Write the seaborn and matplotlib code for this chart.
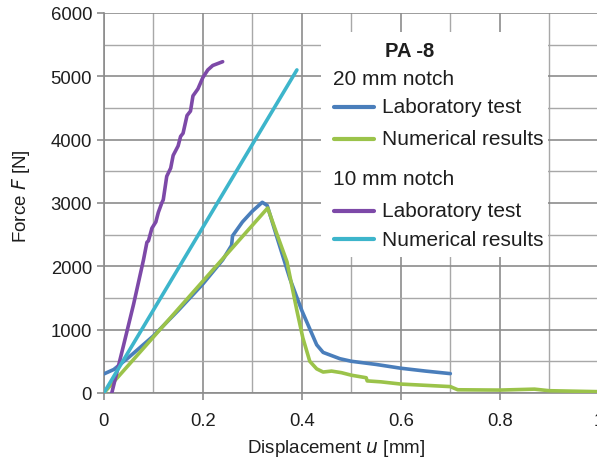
import matplotlib
matplotlib.use('Agg')
import matplotlib.pyplot as plt
import seaborn as sns
import pandas as pd
from matplotlib.patches import Rectangle
from matplotlib.ticker import MultipleLocator

# 20 mm notch - laboratory test
lab20_u = [0, 0.02, 0.05, 0.10, 0.15, 0.20, 0.24, 0.258, 0.26, 0.28, 0.30, 0.32, 0.33,
           0.35, 0.376, 0.40, 0.43, 0.443, 0.477, 0.50, 0.55, 0.60, 0.65, 0.70]
lab20_F = [300, 370, 560, 900, 1300, 1720, 2100, 2330, 2480, 2700, 2870, 3010, 2960,
           2450, 1800, 1300, 760, 640, 540, 500, 450, 390, 345, 305]

# 20 mm notch - numerical results
num20_u = [0, 0.331, 0.35, 0.37, 0.39, 0.402, 0.416, 0.43, 0.443, 0.46, 0.48, 0.50,
           0.53, 0.532, 0.56, 0.60, 0.65, 0.70, 0.715, 0.80, 0.87, 0.90, 1.0]
num20_F = [0, 2920, 2500, 2070, 1300, 870, 500, 380, 330, 345, 320, 280,
           240, 190, 175, 140, 120, 100, 50, 45, 60, 35, 20]

# 10 mm notch - laboratory test
lab10_u = [0.016, 0.04, 0.06, 0.08, 0.087, 0.09, 0.097, 0.105, 0.11, 0.117, 0.12, 0.127,
           0.135, 0.14, 0.15, 0.155, 0.16, 0.168, 0.175, 0.18, 0.19, 0.20, 0.21, 0.22, 0.24]
lab10_F = [0, 760, 1400, 2100, 2380, 2400, 2600, 2700, 2850, 3000, 3050, 3420,
           3550, 3750, 3900, 4050, 4100, 4380, 4450, 4690, 4800, 4980, 5100, 5170, 5230]

# 10 mm notch - numerical results
num10_u = [0, 0.39]
num10_F = [0, 5100]

xtick_labels = ["0", "0.2", "0.4", "0.6", "0.8", "1"]

BLUE = "#4A7EBB"
GREEN = "#9BC34A"
PURPLE = "#7D49A8"
CYAN = "#3DB5CB"
TXT = "#1e1e1e"

sns.set_theme(style="white")
plt.rcParams['font.family'] = ['Liberation Sans', 'DejaVu Sans']

fig = plt.figure(figsize=(5.97, 4.64), dpi=100)
ax = fig.add_axes([0.174, 0.151, 0.829, 0.819])

series = [
    (lab20_u, lab20_F, BLUE),
    (num20_u, num20_F, GREEN),
    (lab10_u, lab10_F, PURPLE),
    (num10_u, num10_F, CYAN),
]
for u, F, c in series:
    df = pd.DataFrame({"u": u, "F": F})
    sns.lineplot(data=df, x="u", y="F", ax=ax, color=c, lw=2.6,
                 sort=False, estimator=None, zorder=5, solid_capstyle='round')

ax.set_xlim(0, 1.0)
ax.set_ylim(0, 6000)
ax.set_xticks([0, 0.2, 0.4, 0.6, 0.8, 1.0])
ax.set_xticklabels(xtick_labels)
ax.xaxis.set_minor_locator(MultipleLocator(0.1))
ax.yaxis.set_major_locator(MultipleLocator(1000))
ax.yaxis.set_minor_locator(MultipleLocator(500))

ax.grid(which="major", color="#8c8c8c", lw=1.2, zorder=0)
ax.grid(which="minor", color="#a8a8a8", lw=1.0, zorder=0)
ax.set_axisbelow(True)
for s in ["top", "right"]:
    ax.spines[s].set_visible(False)
for s in ["left", "bottom"]:
    ax.spines[s].set_color("#8c8c8c")
    ax.spines[s].set_linewidth(1.2)
ax.tick_params(which="major", direction="out", length=5, width=1.2, color="#8c8c8c",
               labelsize=13.3, labelcolor=TXT, bottom=True, left=True)
ax.tick_params(axis="x", which="major", pad=9)
ax.tick_params(which="minor", length=0)

ax.set_xlabel("Displacement $\\it{u}$ [mm]", fontsize=13.5, color=TXT)
ax.set_ylabel("Force $\\it{F}$ [N]", fontsize=13.5, color=TXT)
ax.xaxis.set_label_coords(0.469, -0.115)
ax.yaxis.set_label_coords(-0.145, 0.52)

# legend box
ax.add_patch(Rectangle((0.438, 2150), 0.459, 3550, facecolor="white",
                       edgecolor="none", zorder=3))
ax.text(0.618, 5400, "PA -8", ha="center", va="center", fontsize=14.5,
        fontweight="bold", color=TXT, zorder=4)
entries = [
    (4960, "20 mm notch", None),
    (4515, "Laboratory test", BLUE),
    (4010, "Numerical results", GREEN),
    (3380, "10 mm notch", None),
    (2875, "Laboratory test", PURPLE),
    (2430, "Numerical results", CYAN),
]
for y, label, c in entries:
    if c is None:
        ax.text(0.463, y, label, ha="left", va="center", fontsize=15,
                color=TXT, zorder=4)
    else:
        ax.plot([0.465, 0.545], [y, y], color=c, lw=3, zorder=4,
                solid_capstyle='round')
        ax.text(0.562, y, label, ha="left", va="center", fontsize=15,
                color=TXT, zorder=4)

fig.savefig("out.png", dpi=100)
